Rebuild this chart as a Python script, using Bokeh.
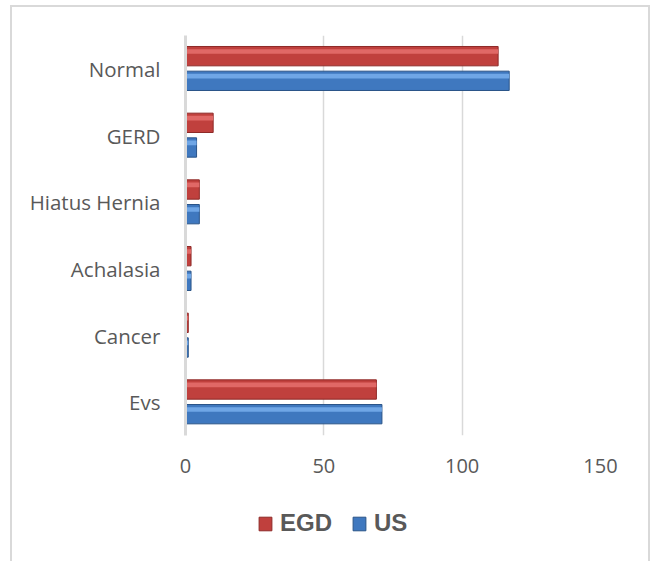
from bokeh.plotting import figure
from bokeh.layouts import column
from bokeh.models import FactorRange, Range1d, Legend, LegendItem, FixedTicker, ColumnDataSource
from bokeh.transform import dodge
from bokeh.embed import file_html
from bokeh.resources import INLINE

categories = ["Normal", "GERD", "Hiatus Hernia", "Achalasia", "Cancer", "Evs"]
egd = [113, 10, 5, 2, 1, 69]
us = [117, 4, 5, 2, 1, 71]
x_ticks = [0, 50, 100, 150]
series_names = ["EGD", "US"]

src = ColumnDataSource(dict(cat=categories, egd=egd, us=us))

red = "#c0403d"
blue = "#3f78bf"

p = figure(width=636, height=478, y_range=FactorRange(factors=categories[::-1]),
           x_range=Range1d(0, 150), output_backend="svg", toolbar_location=None,
           min_border_left=173, min_border_right=48, min_border_top=28, min_border_bottom=50)

p.hbar(y=dodge("cat", 0.19, range=p.y_range), right="egd", left=0, height=0.29,
       source=src, fill_color=red, line_color="#8e2a28", line_width=1)
p.hbar(y=dodge("cat", 0.26, range=p.y_range), right="egd", left=0, height=0.07,
       source=src, fill_color="#e06866", line_color=None)
p.hbar(y=dodge("cat", -0.18, range=p.y_range), right="us", left=0, height=0.29,
       source=src, fill_color=blue, line_color="#2a5488", line_width=1)
p.hbar(y=dodge("cat", -0.11, range=p.y_range), right="us", left=0, height=0.07,
       source=src, fill_color="#6fa6e6", line_color=None)

p.outline_line_color = None
p.background_fill_color = "white"
p.border_fill_color = "white"

p.xgrid.ticker = FixedTicker(ticks=x_ticks)
p.xgrid.grid_line_color = "#d9d9d9"
p.xgrid.grid_line_width = 1.5
p.ygrid.grid_line_color = None

p.xaxis.ticker = FixedTicker(ticks=x_ticks)
p.xaxis.axis_line_color = None
p.xaxis.major_tick_line_color = None
p.xaxis.minor_tick_line_color = None
p.xaxis.major_label_text_font = "Open Sans"
p.xaxis.major_label_text_font_size = "20px"
p.xaxis.major_label_text_color = "#595959"
p.xaxis.major_label_standoff = 17

p.yaxis.axis_line_color = "#d9d9d9"
p.yaxis.axis_line_width = 3
p.yaxis.major_tick_line_color = None
p.yaxis.minor_tick_line_color = None
p.yaxis.major_label_text_font = "Open Sans"
p.yaxis.major_label_text_font_size = "20.5px"
p.yaxis.major_label_text_color = "#595959"
p.yaxis.major_label_standoff = 19

# legend strip below the chart (legend glyph renderers kept outside the visible range)
q = figure(width=636, height=76, x_range=Range1d(0, 1), y_range=Range1d(0, 1),
           output_backend="svg", toolbar_location=None,
           min_border_left=0, min_border_right=0, min_border_top=0, min_border_bottom=0)
q.axis.visible = False
q.grid.visible = False
q.outline_line_color = None
q.background_fill_color = "white"
q.border_fill_color = "white"
hidden = ColumnDataSource(dict(y=[-5.0], right=[0.0]))
g1 = q.hbar(y="y", right="right", left=0, height=0.1, source=hidden,
            fill_color=red, line_color="#8e2a28")
g2 = q.hbar(y="y", right="right", left=0, height=0.1, source=hidden,
            fill_color=blue, line_color="#2a5488")

legend = Legend(items=[LegendItem(label=series_names[0], renderers=[g1]),
                       LegendItem(label=series_names[1], renderers=[g2])],
                orientation="horizontal", location=(72, 24), margin=0,
                label_text_font="Liberation Sans", label_text_font_style="bold",
                label_text_font_size="24px", label_text_color="#595959",
                glyph_width=16, glyph_height=17, spacing=19, label_standoff=7,
                background_fill_alpha=0, border_line_color=None)
q.add_layout(legend, "center")

layout = column(p, q, spacing=0,
                styles={"border-left": "2px solid #d9d9d9", "border-right": "2px solid #d9d9d9",
                        "border-top": "2px solid #d9d9d9", "margin-left": "10px", "margin-top": "5px"})

open("out.html", "w").write(file_html(layout, INLINE))
